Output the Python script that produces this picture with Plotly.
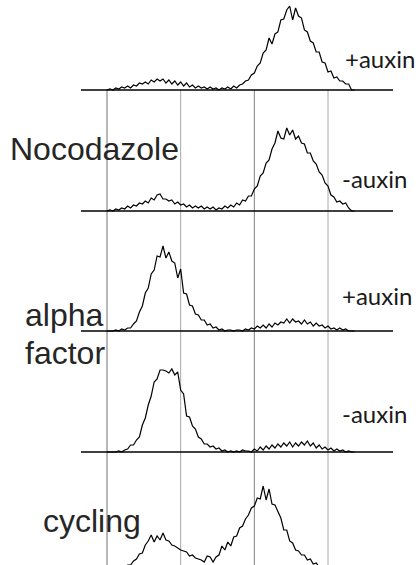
import plotly.graph_objects as go

# DNA-content channel (x) shared by every histogram
channels = list(range(200, 873, 8))

# cell counts per channel bin, one list per sample
noc_plus_auxin = [0, 1, 0, 2, 1, 3, 2, 4, 2, 5,
                  4, 7, 6, 8, 6, 10, 8, 11, 9, 11,
                  7, 10, 6, 9, 5, 8, 4, 7, 3, 5,
                  2, 4, 2, 3, 1, 3, 1, 2, 0, 2,
                  1, 3, 1, 4, 2, 5, 6, 9, 10, 15,
                  17, 24, 27, 37, 40, 52, 46, 56, 58, 70,
                  71, 80, 84, 70, 82, 74, 72, 60, 58, 49,
                  47, 38, 38, 28, 27, 18, 19, 12, 13, 9,
                  9, 6, 6, 0, 0]
noc_minus_auxin = [0, 1, 0, 2, 1, 3, 2, 5, 3, 6,
                   5, 8, 7, 10, 8, 13, 11, 16, 17, 12,
                   12, 10, 11, 7, 9, 6, 7, 4, 6, 3,
                   5, 3, 5, 2, 4, 2, 4, 1, 3, 2,
                   5, 3, 6, 4, 8, 6, 11, 10, 15, 15,
                   22, 25, 35, 38, 48, 51, 62, 68, 80, 73,
                   72, 83, 76, 81, 72, 75, 68, 67, 58, 58,
                   50, 47, 39, 36, 28, 25, 16, 14, 9, 10,
                   7, 8, 3, 0, 0]
alpha_plus_auxin = [0, 0, 0, 1, 0, 2, 1, 3, 3, 7,
                    10, 19, 25, 38, 43, 57, 61, 75, 74, 85,
                    73, 79, 70, 68, 53, 62, 38, 37, 26, 25,
                    17, 16, 11, 11, 6, 7, 3, 4, 1, 2,
                    0, 1, 1, 0, 1, 1, 0, 2, 1, 3,
                    2, 5, 3, 6, 3, 7, 4, 8, 6, 9,
                    8, 12, 8, 12, 9, 10, 7, 11, 7, 9,
                    5, 8, 5, 6, 3, 5, 2, 3, 1, 3,
                    1, 2, 0, 0, 0]
alpha_minus_auxin = [0, 0, 0, 0, 1, 0, 2, 3, 7, 7,
                     12, 15, 27, 34, 47, 56, 70, 73, 82, 82,
                     81, 79, 83, 77, 80, 62, 58, 36, 35, 26,
                     23, 15, 13, 8, 8, 5, 6, 3, 4, 1,
                     2, 0, 1, 0, 1, 0, 2, 1, 1, 0,
                     3, 1, 5, 2, 6, 3, 7, 4, 8, 5,
                     9, 6, 10, 5, 9, 6, 10, 7, 11, 6,
                     9, 4, 7, 3, 5, 2, 4, 1, 3, 1,
                     2, 0, 1, 0, 0]
cycling = [0, 1, 0, 2, 3, 5, 5, 9, 9, 13,
           15, 20, 21, 29, 33, 39, 32, 38, 34, 41,
           34, 33, 29, 28, 26, 24, 23, 22, 18, 19,
           16, 15, 14, 12, 18, 17, 12, 17, 19, 28,
           24, 32, 28, 37, 38, 46, 48, 55, 59, 66,
           68, 76, 75, 88, 74, 85, 70, 69, 62, 56,
           44, 44, 33, 31, 24, 23, 19, 19, 14, 15,
           10, 11, 7, 7, 4, 5, 2, 3, 1, 2,
           0, 1, 0, 0, 0]

samples = [noc_plus_auxin, noc_minus_auxin, alpha_plus_auxin, alpha_minus_auxin, cycling]
gate_channels = [200, 400, 600, 800]
treatment_labels = ["+auxin", "-auxin", "+auxin", "-auxin"]
condition_labels = ["Nocodazole", "alpha", "factor", "cycling"]

# ---- layout (pixels) ----
W, H = 418, 565
baselines_px = [90, 211, 331, 452, 574]
px_per_channel = 221.0 / 600.0
x_left = 200 - 107 / px_per_channel
x_right = x_left + W / px_per_channel

fig = go.Figure()
for i, counts in enumerate(samples):
    yname = "y" if i == 0 else f"y{i+1}"
    fig.add_trace(go.Scatter(x=channels, y=counts, mode="lines", yaxis=yname,
                             line=dict(color="black", width=1.2), hoverinfo="skip",
                             showlegend=False))

layout = dict(width=W, height=H, autosize=False, margin=dict(l=0, r=0, t=0, b=0),
              paper_bgcolor="white", plot_bgcolor="white",
              xaxis=dict(range=[x_left, x_right], visible=False, fixedrange=True))
for i, b in enumerate(baselines_px):
    key = "yaxis" if i == 0 else f"yaxis{i+1}"
    ax = dict(range=[b - H, b], visible=False, domain=[0, 1], fixedrange=True)
    if i > 0:
        ax["overlaying"] = "y"
    layout[key] = ax
fig.update_layout(**layout)

shapes = []
gate_colors = ["#707070", "#a8a8a8", "#808080", "#a8a8a8"]
for c, col in zip(gate_channels, gate_colors):
    shapes.append(dict(type="line", xref="x", yref="paper", x0=c, x1=c,
                       y0=0, y1=1 - baselines_px[0] / H, layer="below",
                       line=dict(color=col, width=1)))
base_x0 = 200 + (81 - 107) / px_per_channel
base_x1 = 200 + (393 - 107) / px_per_channel
for i in range(4):
    yref = "y" if i == 0 else f"y{i+1}"
    shapes.append(dict(type="line", xref="x", yref=yref, x0=base_x0, x1=base_x1,
                       y0=0, y1=0, line=dict(color="black", width=1.3)))
fig.update_layout(shapes=shapes)

ann = []
aux_pos = [(343, 59), (340, 178.5), (340, 295.5), (340, 413.5)]
for t, (px, py) in zip(treatment_labels, aux_pos):
    ann.append(dict(text=t, xref="paper", yref="paper", x=px / W, y=1 - py / H,
                    xanchor="left", yanchor="middle", showarrow=False,
                    font=dict(family="Lato", size=24, color="#1a1a1a")))
cond_pos = [(8, 148.5), (23, 314.5), (23, 352.5), (41, 520.5)]
for t, (px, py) in zip(condition_labels, cond_pos):
    ann.append(dict(text=t, xref="paper", yref="paper", x=px / W, y=1 - py / H,
                    xanchor="left", yanchor="middle", showarrow=False,
                    font=dict(family="Liberation Sans", size=32, color="#262626")))
fig.update_layout(annotations=ann)

fig.write_html("out.html", config={"displayModeBar": False},
               post_script="document.body.style.margin='0px';document.body.style.overflow='hidden';")
